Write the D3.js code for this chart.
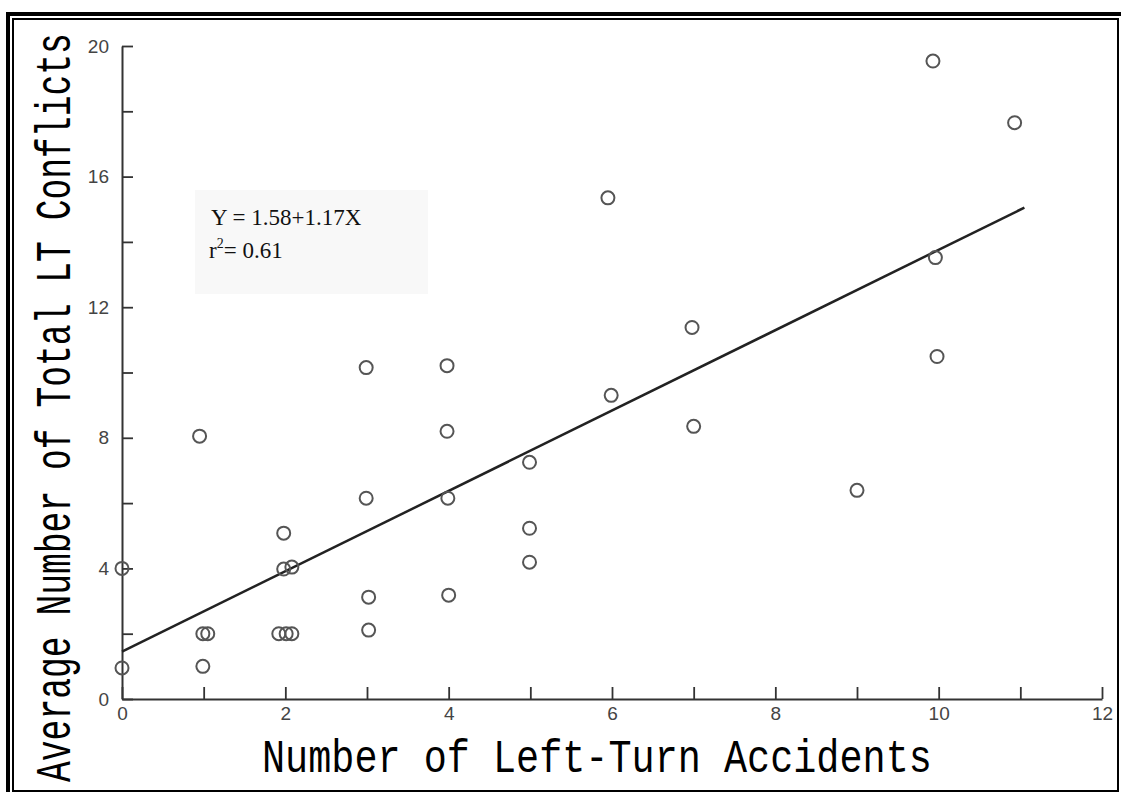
<!DOCTYPE html>
<html>
<head>
<meta charset="utf-8">
<script src="https://cdn.jsdelivr.net/npm/d3@7"></script>
<style>
    body { margin: 0; background: #fff; }
    .tickLabel text { font-family: 'Liberation Sans', Arial, sans-serif; font-size: 19px; fill: #444; }
    .axisTitle { font-family: 'Liberation Mono', 'DejaVu Sans Mono', monospace; fill: #000; }
    .eqText { font-family: 'Liberation Serif', 'Times New Roman', serif; font-size: 23px; fill: #111; }
</style>
</head>
<body>
<div id="chart"></div>
<script>
'use strict';

// Data
const accidents = [0, 0, 0.99, 1.05, 0.99, 0.95, 1.92, 2.01, 2.08, 1.98, 2.08, 1.98,
    2.99, 2.99, 3.02, 3.02, 3.98, 3.98, 3.99, 4.0, 4.99, 4.99, 4.99,
    5.95, 5.99, 6.98, 7.0, 9.0, 9.93, 9.96, 9.98, 10.93];
const conflicts = [0.95, 4.0, 2.0, 2.0, 1.0, 8.05, 2.0, 2.0, 2.0, 3.98, 4.04, 5.08,
    10.15, 6.15, 3.12, 2.11, 10.21, 8.2, 6.15, 3.18, 7.25, 5.23, 4.19,
    15.35, 9.3, 11.38, 8.35, 6.39, 19.54, 13.52, 10.49, 17.65];

// Fitted line as drawn (end points)
const fitX = [0, 11.05];
const fitY = [1.45, 15.05];

// Axis ticks
const xTicks = [0, 1, 2, 3, 4, 5, 6, 7, 8, 9, 10, 11, 12];
const yTicks = [0, 2, 4, 6, 8, 10, 12, 14, 16, 18, 20];

// Texts
const xTitle = 'Number of Left-Turn Accidents';
const yTitle = 'Average Number of Total LT Conflicts';
const eqLine = 'Y = 1.58+1.17X';
const r2Value = '0.61';

class ScatterFit {

    constructor(_ref) {
        this.parent = _ref;
        this.data = accidents.map((a, i) => ({x: a, y: conflicts[i]}));
        this.initVis();
    }

    initVis() {
        const vis = this;

        // Config
        vis.w = 1121;
        vis.h = 792;

        vis.svg = d3.select(`#${vis.parent}`)
            .append('svg')
            .attr('width', vis.w)
            .attr('height', vis.h);

        // Frame
        vis.svg.append('path')
            .attr('d', 'M8,792V14H1121')
            .attr('fill', 'none')
            .attr('stroke', '#000')
            .attr('stroke-width', 4);
        vis.svg.append('rect')
            .attr('x', 13)
            .attr('y', 19)
            .attr('width', 1105)
            .attr('height', 772)
            .attr('fill', 'none')
            .attr('stroke', '#000')
            .attr('stroke-width', 2);

        // Scales
        vis.xScale = d3.scaleLinear()
            .domain([0, 12])
            .range([122, 1102]);
        vis.yScale = d3.scaleLinear()
            .domain([0, 20])
            .range([699, 46]);

        vis.g = vis.svg.append('g');

        vis.updateVis();
    }

    updateVis() {
        const vis = this;

        // Equation box
        vis.g.append('rect')
            .attr('x', 195)
            .attr('y', 190)
            .attr('width', 233)
            .attr('height', 104)
            .attr('fill', '#f8f8f8');
        vis.g.append('text')
            .attr('class', 'eqText')
            .attr('x', 211)
            .attr('y', 225)
            .text(eqLine);
        const r2 = vis.g.append('text')
            .attr('class', 'eqText')
            .attr('x', 209)
            .attr('y', 258);
        r2.append('tspan').text('r');
        r2.append('tspan')
            .attr('dy', -10)
            .style('font-size', '14px')
            .text('2');
        r2.append('tspan')
            .attr('dy', 10)
            .text(`= ${r2Value}`);

        // Y axis
        const yAxis = d3.axisLeft(vis.yScale)
            .tickValues(yTicks)
            .tickSizeInner(-11)
            .tickSizeOuter(0)
            .tickPadding(13)
            .tickFormat(d => d % 4 === 0 ? d : '');
        vis.yAxisG = vis.g.append('g')
            .attr('class', 'tickLabel')
            .attr('transform', `translate(${vis.xScale(0)},0)`)
            .call(yAxis);

        // X axis
        const xAxis = d3.axisBottom(vis.xScale)
            .tickValues(xTicks)
            .tickSizeInner(-12)
            .tickSizeOuter(0)
            .tickPadding(8)
            .tickFormat(d => d % 2 === 0 ? d : '');
        vis.xAxisG = vis.g.append('g')
            .attr('class', 'tickLabel')
            .attr('transform', `translate(0,${vis.yScale(0)})`)
            .call(xAxis);

        [vis.xAxisG, vis.yAxisG].forEach(a => {
            a.select('.domain').attr('stroke', '#333').attr('stroke-width', 2);
            a.selectAll('.tick line').attr('stroke', '#333').attr('stroke-width', 1.8);
        });

        // Fit line
        vis.g.append('line')
            .attr('x1', vis.xScale(fitX[0]))
            .attr('y1', vis.yScale(fitY[0]))
            .attr('x2', vis.xScale(fitX[1]))
            .attr('y2', vis.yScale(fitY[1]))
            .attr('stroke', '#222')
            .attr('stroke-width', 2.5);

        // Points
        vis.g.selectAll('.dot')
            .data(vis.data)
            .join('circle')
            .attr('class', 'dot')
            .attr('cx', d => vis.xScale(d.x))
            .attr('cy', d => vis.yScale(d.y))
            .attr('r', 6.5)
            .attr('fill', 'none')
            .attr('stroke', '#555')
            .attr('stroke-width', 2);

        // Axis titles, squeezed to the narrow scan lettering
        const xT = vis.g.append('text')
            .attr('class', 'axisTitle')
            .style('font-size', '46px')
            .text(xTitle);
        const kx = 670 / xT.node().getComputedTextLength();
        xT.attr('transform', `translate(262,772) scale(${kx},1)`);

        const yT = vis.g.append('text')
            .attr('class', 'axisTitle')
            .style('font-size', '50px')
            .text(yTitle);
        const ky = 749 / yT.node().getComputedTextLength();
        yT.attr('transform', `translate(70,782) rotate(-90) scale(${ky},1)`);
    }
}

new ScatterFit('chart');
</script>
</body>
</html>
